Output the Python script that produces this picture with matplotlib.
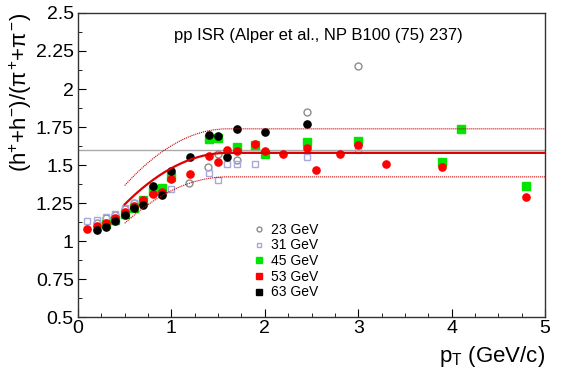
import numpy as np
import matplotlib
matplotlib.use("Agg")
import matplotlib.pyplot as plt
from matplotlib.lines import Line2D
from matplotlib.ticker import MultipleLocator

plt.rcParams['font.family'] = ['Liberation Sans', 'DejaVu Sans']
plt.rcParams['mathtext.fontset'] = 'custom'
plt.rcParams['mathtext.rm'] = 'Liberation Sans'
plt.rcParams['mathtext.it'] = 'Liberation Sans'

# data
pt_23 = [0.2, 0.3, 0.4, 0.5, 0.6, 1.19, 1.39, 1.5, 1.7, 2.45, 3.0]
r_23 = [1.12, 1.15, 1.17, 1.21, 1.25, 1.38, 1.49, 1.57, 1.53, 1.85, 2.15]

pt_31 = [0.1, 0.2, 0.3, 0.4, 0.5, 0.6, 1.0, 1.4, 1.5, 1.6, 1.7, 1.9, 2.45, 3.0]
r_31 = [1.13, 1.14, 1.16, 1.18, 1.22, 1.25, 1.34, 1.45, 1.40, 1.51, 1.51, 1.51, 1.55, 1.60]

pt_45 = [0.3, 0.4, 0.5, 0.6, 0.7, 0.8, 0.9, 1.0, 1.4, 1.5, 1.7, 1.9, 2.0, 2.45, 3.0, 3.9, 4.1, 4.8]
r_45 = [1.11, 1.14, 1.18, 1.22, 1.27, 1.33, 1.35, 1.42, 1.67, 1.68, 1.62, 1.63, 1.57, 1.65, 1.66, 1.52, 1.74, 1.36]

pt_53 = [0.1, 0.2, 0.3, 0.4, 0.5, 0.6, 0.7, 0.8, 0.9, 1.0, 1.2, 1.4, 1.5, 1.6, 1.7, 1.9, 2.0,
         2.2, 2.45, 2.55, 2.8, 3.0, 3.3, 3.9, 4.8]
r_53 = [1.08, 1.10, 1.12, 1.15, 1.19, 1.23, 1.27, 1.31, 1.32, 1.41, 1.44, 1.56, 1.52, 1.60, 1.59,
        1.64, 1.59, 1.57, 1.61, 1.47, 1.57, 1.63, 1.51, 1.49, 1.29]

pt_63 = [0.2, 0.3, 0.4, 0.5, 0.6, 0.7, 0.8, 0.9, 1.0, 1.2, 1.4, 1.5, 1.6, 1.7, 2.0, 2.45]
r_63 = [1.07, 1.09, 1.13, 1.17, 1.22, 1.24, 1.36, 1.30, 1.46, 1.55, 1.70, 1.69, 1.55, 1.74, 1.72, 1.77]

# fit: rising parabola joining a constant plateau, band = +-10%
plateau = 1.58
x_turn = 1.6
curv = 0.28
ref_line = 1.6

fig = plt.figure(figsize=(5.71, 3.82), dpi=100)
ax = fig.add_axes([0.1366, 0.170, 0.8179, 0.796])

ax.axhline(ref_line, color='#aaaaaa', lw=1.0, zorder=1)

ax.plot(pt_23, r_23, 'o', ms=5, mfc='none', mec='#8c8c8c', mew=1.0, zorder=3)
ax.plot(pt_31, r_31, 's', ms=5, mfc='none', mec='#a8a8dc', mew=1.0, zorder=3)
ax.plot(pt_45, r_45, 's', ms=5.2, mfc='#00e600', mec='#00e600', zorder=4)
ax.plot(pt_53, r_53, 'o', ms=5.2, mfc='#ff0000', mec='#ff0000', zorder=5)
ax.plot(pt_63, r_63, 'o', ms=5.2, mfc='black', mec='black', zorder=6)

xf = np.linspace(0.5, 5.0, 300)
fit = np.where(xf < x_turn, plateau - curv * (xf - x_turn) ** 2, plateau)
ax.plot(xf, fit, color='#dd0000', lw=1.6, zorder=7)
ax.plot(xf, 1.1 * fit, color='#cc0000', lw=0.8, ls=(0, (1, 0.8)), zorder=7)
ax.plot(xf, 0.9 * fit, color='#cc0000', lw=0.8, ls=(0, (1, 0.8)), zorder=7)

ax.set_xlim(0, 5)
ax.set_ylim(0.5, 2.5)
ax.xaxis.set_major_locator(MultipleLocator(1))
ax.xaxis.set_minor_locator(MultipleLocator(0.25))
ax.yaxis.set_major_locator(MultipleLocator(0.25))
ax.yaxis.set_minor_locator(MultipleLocator(0.125))
ax.yaxis.set_major_formatter(plt.FuncFormatter(lambda v, p: ('%g' % v)))
ax.tick_params(which='both', direction='in', labelsize=14, top=False, right=False)
ax.tick_params(which='major', length=6)
ax.tick_params(which='minor', length=3)
ax.tick_params(axis='y', pad=3)
ax.tick_params(axis='x', pad=2)
for s in ax.spines.values():
    s.set_color('#333333')
    s.set_linewidth(1.0)

ax.set_xlabel(r'p$_{\mathregular{T}}$ (GeV/c)', fontsize=16, loc='right')
ax.xaxis.set_label_coords(1.0, -0.09)
ax.set_ylabel(r'(h$^{+}$+h$^{-}$)/($\pi^{+}$+$\pi^{-}$)', fontsize=16, loc='top')
ax.yaxis.set_label_coords(-0.095, 1.0)

ax.text(2.57, 2.35, 'pp ISR (Alper et al., NP B100 (75) 237)', fontsize=12,
        ha='center', va='center')

labels = ['23 GeV', '31 GeV', '45 GeV', '53 GeV', '63 GeV']
handles = [
    Line2D([], [], ls='none', marker='o', ms=3.5, mfc='none', mec='#8c8c8c'),
    Line2D([], [], ls='none', marker='s', ms=3.5, mfc='none', mec='#a8a8dc'),
    Line2D([], [], ls='none', marker='s', ms=4, mfc='#00e600', mec='#00e600'),
    Line2D([], [], ls='none', marker='s', ms=4, mfc='#ff0000', mec='#ff0000'),
    Line2D([], [], ls='none', marker='s', ms=4, mfc='black', mec='black'),
]
ax.legend(handles, labels, loc='upper left', bbox_to_anchor=(0.375, 0.31),
          frameon=False, fontsize=10, handlelength=0.8, handletextpad=0.5,
          labelspacing=0.12, borderpad=0, borderaxespad=0)

fig.savefig('out.png', dpi=100)
